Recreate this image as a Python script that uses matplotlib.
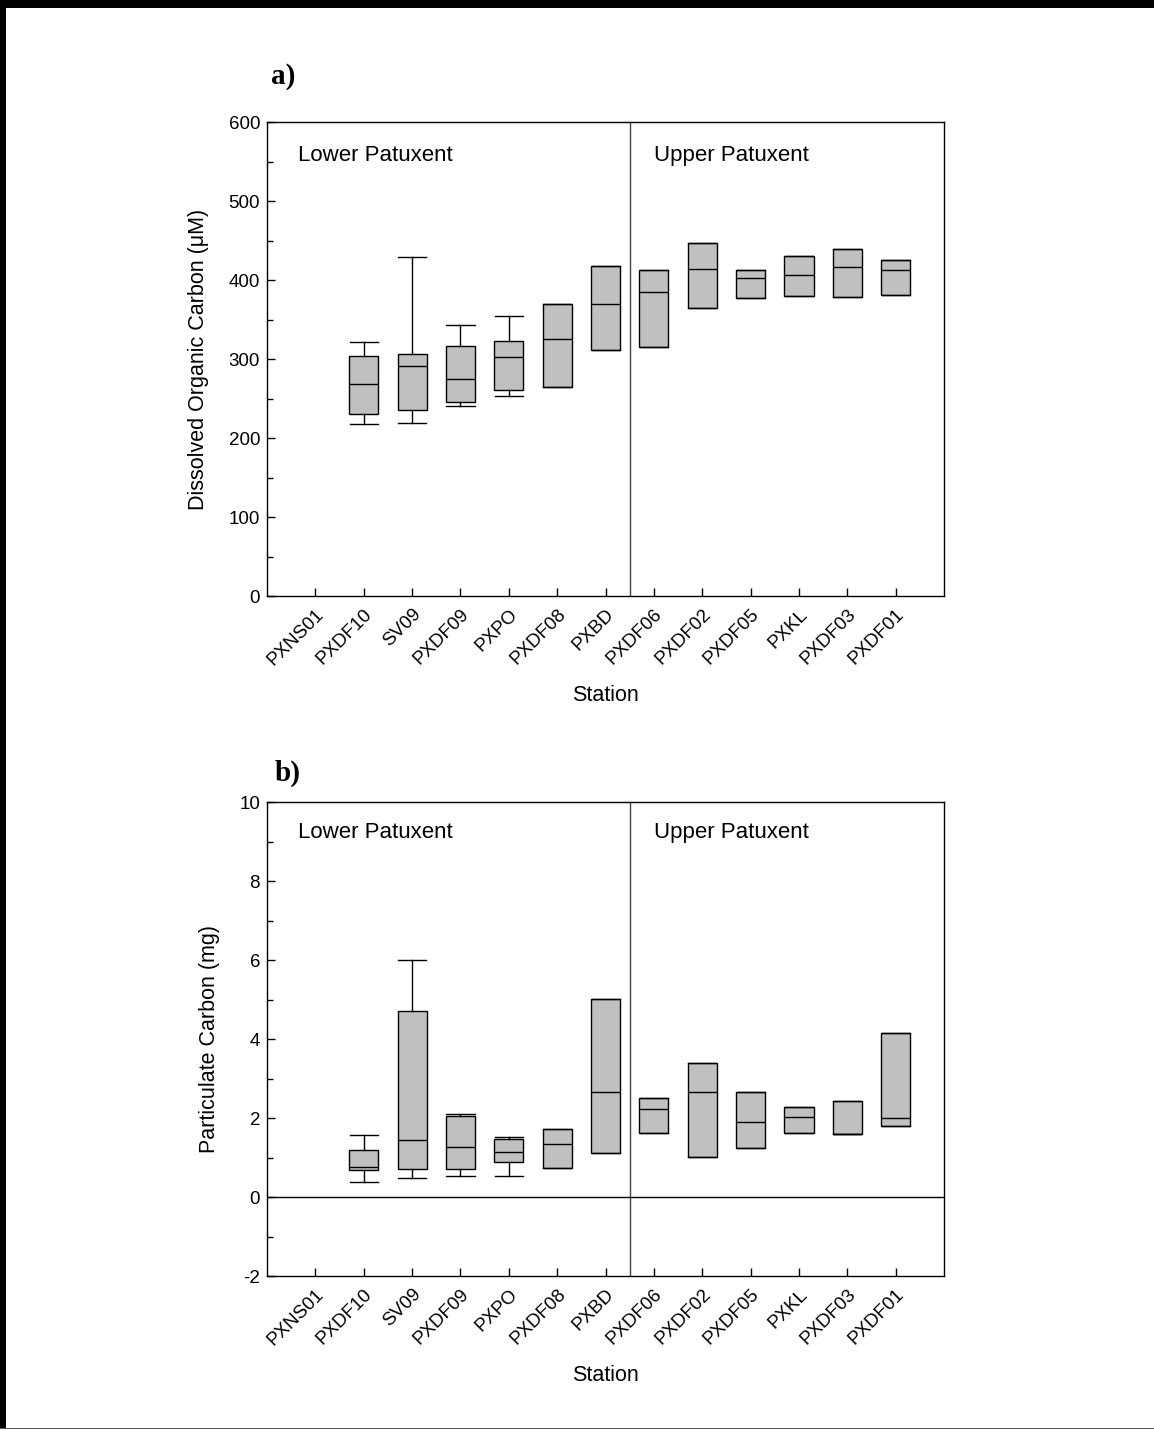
import numpy as np
import matplotlib.pyplot as plt
from matplotlib.patches import Rectangle

plt.rcParams['font.family'] = ['Liberation Sans', 'DejaVu Sans']
plt.rcParams['axes.unicode_minus'] = False

stations = ['PXNS01', 'PXDF10', 'SV09', 'PXDF09', 'PXPO', 'PXDF08', 'PXBD',
            'PXDF06', 'PXDF02', 'PXDF05', 'PXKL', 'PXDF03', 'PXDF01']

# dissolved organic carbon (uM), PXNS01 has no samples -> None
doc_lo = [None, 218, 219, 240, 253, None, None, None, None, None, None, None, None]
doc_q1 = [None, 231, 236, 246, 261, 265, 311, 315, 364, 377, 380, 378, 381]
doc_med = [None, 269, 291, 275, 302, 326, 370, 385, 414, 402, 407, 416, 413]
doc_q3 = [None, 304, 307, 316, 323, 370, 418, 413, 447, 413, 431, 439, 425]
doc_hi = [None, 321, 429, 343, 354, None, None, None, None, None, None, None, None]

# particulate carbon (mg)
pc_lo = [None, 0.37, 0.48, 0.54, 0.52, None, None, None, None, None, None, None, None]
pc_q1 = [None, 0.68, 0.70, 0.70, 0.88, 0.74, 1.12, 1.61, 1.01, 1.25, 1.62, 1.60, 1.79]
pc_med = [None, 0.77, 1.44, 1.27, 1.14, 1.35, 2.66, 2.24, 2.65, 1.91, 2.02, 1.60, 2.00]
pc_q3 = [None, 1.18, 4.72, 2.04, 1.46, 1.73, 5.01, 2.51, 3.39, 2.67, 2.29, 2.44, 4.15]
pc_hi = [None, 1.58, 6.01, 2.09, 1.51, None, None, None, None, None, None, None, None]


def make_stats(lo, q1, med, q3, hi):
    stats, pos = [], []
    for i in range(len(q1)):
        if q1[i] is None:
            continue
        stats.append({
            'whislo': lo[i] if lo[i] is not None else q1[i],
            'q1': q1[i], 'med': med[i], 'q3': q3[i],
            'whishi': hi[i] if hi[i] is not None else q3[i],
            'fliers': []})
        pos.append(i)
    return stats, pos


def draw_panel(ax, stats, pos, ylim, major, minor, ylabel, ytxt):
    ax.bxp(stats, positions=pos, widths=0.6, capwidths=0.58,
           patch_artist=True, showfliers=False,
           boxprops=dict(facecolor='#c0c0c0', edgecolor='black', linewidth=1),
           medianprops=dict(color='black', linewidth=1),
           whiskerprops=dict(color='black', linewidth=1),
           capprops=dict(color='black', linewidth=1))
    ax.axvline(6.5, color='#444444', linewidth=1)
    ax.set_xlim(-1, 13)
    ax.set_ylim(*ylim)
    ax.set_xticks(range(len(stations)))
    ax.set_xticklabels(stations, rotation=45, ha='right', rotation_mode='anchor',
                       fontsize=13.5)
    ax.set_yticks(np.arange(ylim[0], ylim[1] + major / 2, major))
    ax.set_yticks(np.arange(ylim[0], ylim[1] + minor / 2, minor), minor=True)
    ax.tick_params(which='both', direction='in', top=False, right=False)
    ax.tick_params(axis='y', labelsize=13.5, pad=5)
    ax.tick_params(which='major', length=6, width=1)
    ax.tick_params(which='minor', length=4.5, width=1)
    ax.tick_params(axis='x', pad=7)
    for s in ax.spines.values():
        s.set_linewidth(1)
    ax.set_xlabel('Station', fontsize=15.5, labelpad=12)
    ax.set_ylabel(ylabel, fontsize=15.5, labelpad=14)
    ax.text(-0.37, ytxt, 'Lower Patuxent', fontsize=16, va='center')
    ax.text(7.0, ytxt, 'Upper Patuxent', fontsize=16, va='center')


fig = plt.figure(figsize=(11.54, 14.31), dpi=100)
ax1 = fig.add_axes([0.2314, 0.5835, 0.5867, 0.3312])
ax2 = fig.add_axes([0.2314, 0.1083, 0.5867, 0.3312])

s1, p1 = make_stats(doc_lo, doc_q1, doc_med, doc_q3, doc_hi)
draw_panel(ax1, s1, p1, (0, 600), 100, 50,
           'Dissolved Organic Carbon (\u03bcM)', 558)

s2, p2 = make_stats(pc_lo, pc_q1, pc_med, pc_q3, pc_hi)
draw_panel(ax2, s2, p2, (-2, 10), 2, 1, 'Particulate Carbon (mg)', 9.22)
ax2.axhline(0, color='black', linewidth=1)

fig.text(271 / 1154, 1 - 76 / 1431, 'a)', fontsize=21, fontweight='bold',
         family='Liberation Serif', va='center')
fig.text(275 / 1154, 1 - 773 / 1431, 'b)', fontsize=21, fontweight='bold',
         family='Liberation Serif', va='center')

# page frame: thick top and left edges, thin bottom
fig.add_artist(Rectangle((0, 1 - 8 / 1431), 1, 8 / 1431, transform=fig.transFigure,
                         facecolor='black', edgecolor='none'))
fig.add_artist(Rectangle((0, 3 / 1431), 6 / 1154, 1, transform=fig.transFigure,
                         facecolor='black', edgecolor='none'))
fig.add_artist(Rectangle((0, 2 / 1431), 1, 1.5 / 1431, transform=fig.transFigure,
                         facecolor='#555555', edgecolor='none'))

fig.savefig('out.png', dpi=100)
